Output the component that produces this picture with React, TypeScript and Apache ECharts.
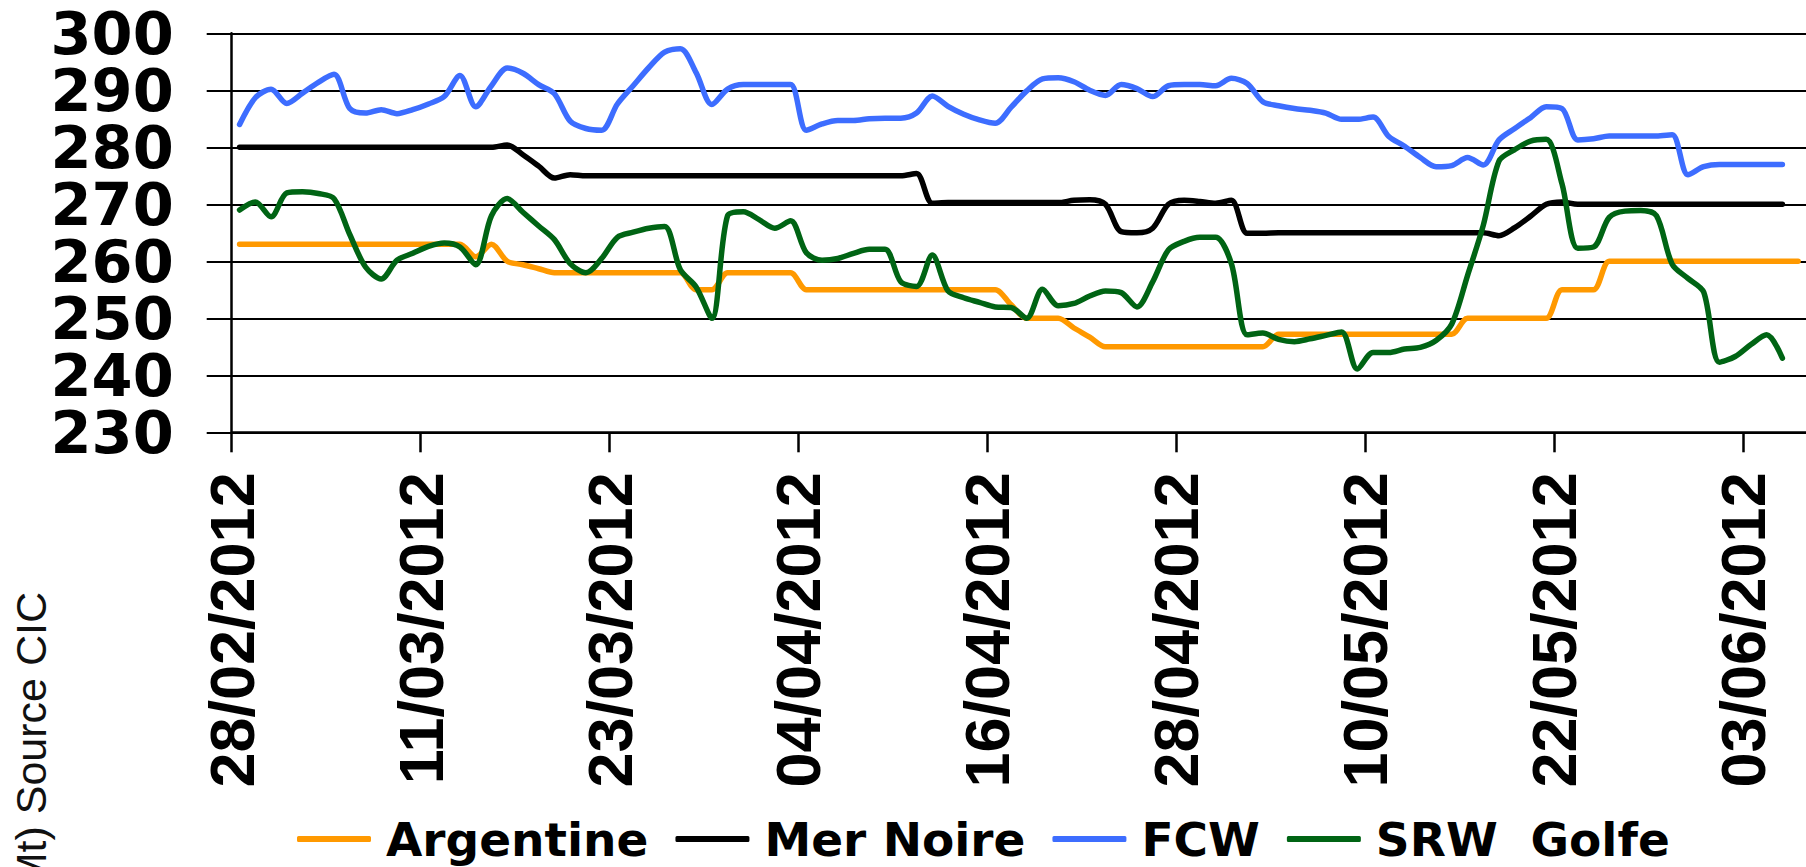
import React, { useEffect, useRef } from "react";
import * as echarts from "echarts";

// Day 0 = 28/02/2012; one value per day
const START_UTC = Date.UTC(2012, 1, 28);
const tickDays = [0, 12, 24, 36, 48, 60, 72, 84, 96];
const yMin = 230;
const yMax = 300;
const yStep = 10;
const yTicks = [230, 240, 250, 260, 270, 280, 290, 300];

const seriesNames = ["Argentine", "Mer Noire", "FCW", "SRW  Golfe"];
const seriesColors = ["#FF9900", "#000000", "#3D6DFF", "#006414"];

const argentine = [
  263, 263, 263, 263, 263, 263, 263, 263, 263, 263, 263, 263, 263, 263, 263,
  260.8, 263, 260, 259.4, 258.7, 258,
  258, 258, 258, 258, 258, 258, 258, 258,
  255, 255,
  258, 258, 258, 258, 258,
  255, 255, 255, 255, 255, 255, 255, 255, 255, 255, 255, 255, 255,
  252.4, 250, 250, 250, 248.3, 246.7,
  245, 245, 245, 245, 245, 245, 245, 245, 245, 245, 245,
  247.2, 247.2, 247.2, 247.2, 247.2, 247.2, 247.2, 247.2, 247.2, 247.2, 247.2, 247.2,
  250, 250, 250, 250, 250, 250,
  255, 255, 255,
  260, 260, 260, 260, 260, 260, 260, 260, 260, 260, 260, 260, 260,
];

const merNoire = [
  280, 280, 280, 280, 280, 280, 280, 280, 280, 280, 280, 280, 280, 280, 280, 280, 280,
  280.4, 278.7, 276.7, 274.6,
  275.2, 275, 275, 275, 275, 275, 275, 275, 275, 275, 275, 275, 275, 275, 275, 275, 275, 275, 275, 275, 275, 275,
  275.4, 270.2,
  270.3, 270.3, 270.3, 270.3, 270.3, 270.3, 270.3, 270.3,
  270.7, 270.8, 270, 265.2, 265, 265.8, 270, 270.7, 270.5, 270.2, 270.7, 264.9, 264.9,
  265, 265, 265, 265, 265, 265, 265, 265, 265, 265, 265, 265, 265, 265,
  264.5, 265.9, 267.9, 270, 270.4,
  270, 270, 270, 270, 270, 270, 270, 270, 270, 270, 270, 270, 270, 270,
];

const fcw = [
  284, 288.7, 290.2, 287.7, 289.5, 291.4, 292.8, 286.8, 286, 286.6,
  285.9, 286.6, 287.6, 288.9, 292.6, 287.1, 290.8, 293.9, 293, 291,
  289.4, 284.6, 283.3, 283, 287.6, 290.8, 294, 296.7, 297.3, 293.1,
  287.5, 290.2, 291, 291, 291, 291, 283, 284.1, 284.7, 284.7,
  285, 285.1, 285.1, 286, 289, 287.2, 285.8, 284.8, 284.2, 287,
  289.9, 292, 292.2, 291.5, 290, 289.1, 291, 290.3, 288.9, 290.8,
  291, 291, 290.8, 292.1, 291.2, 288, 287.3, 286.8, 286.5, 286,
  284.9, 284.9, 285.3, 281.9, 280.2, 278.2, 276.6, 276.8, 278.2, 276.9,
  281.3, 283.3, 285.2, 287.1, 286.8, 281.3, 281.5, 282, 282, 282,
  282, 282.2, 275.2, 276.6, 277, 277, 277, 277, 277,
];

const srwGolfe = [
  269, 270.4, 267.8, 272, 272.2, 271.9, 271, 264.7, 259, 256.9,
  260.2, 261.4, 262.6, 263.2, 262.5, 259.4, 268, 271, 268.6, 266.2,
  263.8, 259.6, 258, 260.5, 264.2, 265.1, 265.8, 266.1, 258.5, 255.5,
  250, 268, 268.7, 267.3, 265.8, 267.1, 261.5, 260.2, 260.5, 261.4,
  262.1, 262.1, 256.4, 255.6, 261.1, 254.8, 253.6, 252.8, 252, 251.9,
  250, 255.1, 252.2, 252.6, 253.9, 254.8, 254.5, 252, 256.4, 262,
  263.5, 264.2, 264.2, 259.6, 247.1, 247.4, 246.3, 245.9, 246.4, 247,
  247.6, 241.1, 244, 244, 244.6, 244.9, 246.1, 249, 257.5, 266.3,
  277.6, 279.6, 281.1, 281.4, 273.6, 262.3, 262.5, 267.7, 268.8, 268.9,
  268, 259.5, 257, 254.6, 242.3, 243.3, 245.4, 247.1, 243,
];

const allSeries = [argentine, merNoire, fcw, srwGolfe];

function dayLabel(d: number): string {
  const dt = new Date(START_UTC + d * 86400000);
  const dd = String(dt.getUTCDate()).padStart(2, "0");
  const mm = String(dt.getUTCMonth() + 1).padStart(2, "0");
  return `${dd}/${mm}/${dt.getUTCFullYear()}`;
}

const yLabelStyle = {
  margin: 58,
  color: "#000",
  fontWeight: "bold",
  fontSize: 59,
  lineHeight: 48,
  fontFamily: "'DejaVu Sans', sans-serif",
};

export default function App() {
  const ref = useRef<HTMLDivElement>(null);
  useEffect(() => {
    if (!ref.current) return;
    const chart = echarts.init(ref.current, null, { renderer: "svg" });
    // labels split over two overlaid axes so that ECharts keeps every one of them
    const labelsA = yTicks.filter((_, i) => i % 2 === 0);
    const labelsB = yTicks.filter((_, i) => i % 2 === 1);
    const option: any = {
      animation: false,
      backgroundColor: "#ffffff",
      grid: { left: 231.7, top: 33.3, right: 0, bottom: 434.7, containLabel: false },
      xAxis: {
        type: "value",
        min: 0,
        max: 100,
        splitLine: { show: false },
        axisLine: { show: true, lineStyle: { color: "#000", width: 2.5 } },
        axisTick: {
          show: true,
          customValues: tickDays,
          length: 20,
          lineStyle: { color: "#000", width: 2.5 },
        },
        axisLabel: {
          customValues: tickDays,
          rotate: 90,
          margin: 40,
          color: "#000",
          fontWeight: "bold",
          fontSize: 63,
          lineHeight: 63,
          fontFamily: "'Liberation Sans', Arial, sans-serif",
          formatter: (v: number) => dayLabel(v),
        },
      },
      yAxis: [
        {
          type: "value",
          position: "left",
          min: yMin,
          max: yMax,
          interval: yStep,
          axisLine: { show: true, lineStyle: { color: "#000", width: 2.5 } },
          axisTick: {
            show: true,
            customValues: yTicks,
            length: 25,
            lineStyle: { color: "#000", width: 2 },
          },
          splitLine: { show: true, lineStyle: { color: "#000", width: 2 } },
          axisLabel: { ...yLabelStyle, customValues: labelsA },
        },
        {
          type: "value",
          position: "left",
          offset: 0,
          min: yMin,
          max: yMax,
          interval: yStep,
          axisLine: { show: false },
          axisTick: { show: false },
          splitLine: { show: false },
          axisLabel: { ...yLabelStyle, customValues: labelsB },
        },
      ],
      legend: {
        left: 297,
        top: 814,
        padding: 0,
        icon: "roundRect",
        itemWidth: 74,
        itemHeight: 6,
        itemGap: 27,
        data: seriesNames,
        textStyle: {
          color: "#000",
          fontWeight: "bold",
          fontSize: 47,
          lineHeight: 50,
          fontFamily: "'DejaVu Sans', sans-serif",
          padding: [0, 0, 0, 10],
        },
      },
      graphic: [
        {
          type: "text",
          x: 31,
          y: 592,
          rotation: Math.PI / 2,
          style: {
            text: "($/Mt) Source CIC",
            fontSize: 43,
            fontFamily: "'Liberation Sans', Arial, sans-serif",
            fill: "#111",
            align: "right",
            verticalAlign: "middle",
          },
        },
      ],
      series: seriesNames.map((name, i) => ({
        name,
        type: "line",
        yAxisIndex: 0,
        showSymbol: false,
        symbol: "none",
        smooth: 0.3,
        color: seriesColors[i],
        lineStyle: { color: seriesColors[i], width: 5.5, cap: "round", join: "round" },
        itemStyle: { color: seriesColors[i] },
        data: allSeries[i].map((v, d) => [d + 0.5, v]),
      })),
    };
    chart.setOption(option);
    return () => chart.dispose();
  }, []);
  return (
    <div
      ref={ref}
      style={{ position: "fixed", left: 0, top: 0, width: "1806px", height: "867px", background: "#fff" }}
    />
  );
}
